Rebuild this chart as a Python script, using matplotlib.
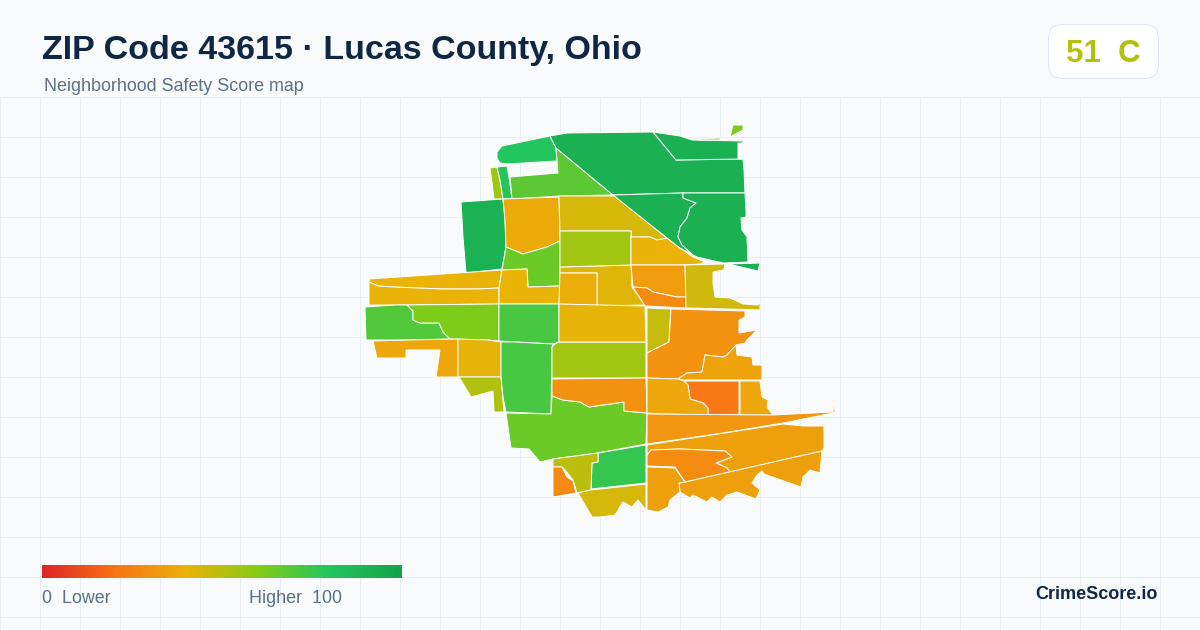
import numpy as np
import matplotlib
matplotlib.use("Agg")
import matplotlib.pyplot as plt
from matplotlib.colors import LinearSegmentedColormap
from matplotlib.patches import FancyBboxPatch, Polygon

# Score per tract, same order as tract_outlines
tract_scores = [80, 55, 79, 68, 91, 37, 65, 40, 40, 40,
                42, 38, 44, 54, 40, 33, 27, 45, 92, 92,
                61, 61, 92, 92, 92, 70, 61, 72, 36, 41,
                51, 72, 65, 54, 41, 30, 47, 30, 35, 22,
                36, 36, 31, 34, 28, 34, 34, 76, 49, 27, 44]

# Tract outlines, in picture pixels
tract_outlines = [
    [(550,136),(556,148),(557,161),(507,164),(500,163),(497,158),(497,152),(502,146)],
    [(490,168),(497,167),(500,180),(503,199),(494,199),(492,183)],
    [(497,167),(507,166),(509,177),(512,199),(503,199),(500,180)],
    [(510,177),(558,173),(556,148),(613,195),(560,196),(512,199)],
    [(461,202),(503,199),(505,220),(506,247),(502,269),(466,273),(463,237)],
    [(503,199),(559,197),(560,241),(547,247),(523,254),(506,247),(505,220)],
    [(506,247),(523,254),(547,247),(560,241),(560,286),(528,287),(527,269),(502,270)],
    [(369,279),(502,270),(499,288),(477,289),(442,289),(393,287),(378,286),(369,282)],
    [(369,282),(378,286),(393,287),(442,289),(477,289),(499,288),(499,304),(395,305),(369,305)],
    [(502,270),(527,269),(528,287),(560,286),(559,304),(499,304),(499,288)],
    [(560,267),(631,265),(632,287),(645,305),(597,306),(597,273),(560,273)],
    [(560,273),(597,273),(597,306),(559,304)],
    [(559,197),(560,196),(615,196),(667,238),(657,240),(650,237),(631,237),(631,231),(560,231)],
    [(560,231),(631,231),(631,265),(560,267)],
    [(631,237),(650,237),(657,240),(667,238),(680,248),(693,257),(705,262),(700,264),(685,265),(631,265)],
    [(631,265),(685,265),(686,297),(677,297),(653,292),(647,288),(633,287)],
    [(633,287),(647,288),(653,292),(677,297),(686,297),(686,308),(645,306)],
    [(685,265),(725,264),(724,270),(713,272),(713,283),(715,297),(730,298),(743,304),(758,305),(760,302),(760,310),(727,309),(686,308)],
    [(550,136),(567,133),(653,132),(676,160),(743,159),(744,170),(745,193),(683,193),(613,195),(556,148)],
    [(653,132),(680,136),(692,140),(743,141),(743,143),(738,143),(738,158),(743,159),(676,160)],
    [(733,125),(743,125),(743,130),(730,137)],
    [(698,139),(720,138),(720,140),(698,140)],
    [(613,195),(683,193),(683,198),(696,203),(690,208),(687,218),(680,227),(678,237),(682,245),(693,255),(697,257),(680,248),(667,238)],
    [(683,193),(745,193),(746,210),(746,217),(741,218),(742,230),(747,237),(748,262),(723,263),(697,257),(693,255),(682,245),(678,237),(680,227),(687,218),(690,208),(696,203),(683,198)],
    [(728,264),(760,263),(758,271)],
    [(365,307),(395,305),(407,305),(413,311),(413,320),(420,323),(439,323),(443,332),(450,339),(410,340),(366,340)],
    [(407,305),(499,304),(499,341),(488,340),(450,339),(443,332),(439,323),(420,323),(413,320),(413,311)],
    [(499,304),(559,304),(559,342),(553,344),(515,342),(499,341)],
    [(373,341),(410,340),(458,339),(458,377),(436,377),(440,350),(406,350),(406,358),(377,358)],
    [(458,339),(488,340),(501,342),(501,377),(458,377)],
    [(459,377),(501,377),(504,412),(494,412),(493,391),(471,397)],
    [(501,342),(515,342),(553,344),(552,347),(551,414),(506,412),(503,397),(501,377)],
    [(506,413),(551,414),(552,396),(563,400),(580,402),(589,407),(624,402),(624,411),(647,413),(646,444),(598,453),(553,459),(540,462),(529,449),(511,448)],
    [(552,347),(555,344),(559,342),(646,342),(646,378),(552,378)],
    [(559,304),(645,306),(646,342),(559,342)],
    [(552,379),(646,378),(647,413),(624,411),(624,402),(589,407),(580,402),(563,400),(552,396)],
    [(647,308),(671,309),(669,342),(657,348),(647,353)],
    [(671,309),(745,311),(745,317),(739,320),(739,333),(757,330),(747,340),(745,343),(736,345),(727,355),(723,357),(705,355),(702,372),(687,373),(678,379),(647,378),(647,353),(657,348),(669,342)],
    [(705,355),(723,357),(727,355),(736,345),(737,355),(752,357),(753,365),(762,365),(762,380),(683,380),(678,379),(687,373),(702,372)],
    [(684,381),(739,381),(739,415),(708,415),(708,408),(703,403),(690,399),(688,385)],
    [(740,381),(760,381),(762,397),(768,400),(767,407),(773,415),(740,415)],
    [(647,378),(678,379),(684,381),(688,385),(690,399),(703,403),(708,408),(708,415),(663,414),(647,413)],
    [(647,414),(773,415),(833,412),(834,398),(835,412),(833,413),(783,423),(723,433),(647,444)],
    [(647,445),(783,424),(803,426),(824,426),(824,448),(822,451),(730,472),(727,468),(716,463),(732,457),(725,451),(680,449),(651,450),(647,455)],
    [(647,455),(651,450),(680,449),(725,451),(732,457),(716,463),(727,468),(730,472),(685,482),(675,467),(647,466)],
    [(685,482),(822,451),(820,473),(810,470),(803,477),(801,487),(764,474),(762,471),(757,475),(752,483),(760,490),(756,499),(737,492),(727,495),(720,502),(712,497),(707,502),(693,495),(690,498),(680,492),(679,483)],
    [(647,467),(675,468),(685,482),(679,483),(680,492),(670,500),(668,507),(658,512),(647,510)],
    [(598,453),(646,445),(646,483),(591,489),(592,463),(598,462)],
    [(553,459),(598,453),(598,462),(592,463),(591,490),(577,493),(573,480),(565,470),(562,467),(553,467)],
    [(553,467),(562,467),(567,477),(573,481),(576,493),(553,497)],
    [(578,493),(591,490),(646,484),(646,510),(638,500),(632,507),(623,502),(615,515),(600,517),(592,517)],
]

score_stops = [0, 20, 40, 60, 80, 100]
stop_colors = ["#dc2626", "#f97316", "#eab308", "#84cc16", "#22c55e", "#16a34a"]
overall_score = 51
overall_grade = "C"

cmap = LinearSegmentedColormap.from_list(
    "safety", [(s / 100, c) for s, c in zip(score_stops, stop_colors)])

plt.rcParams['font.family'] = ['Liberation Sans', 'DejaVu Sans']

fig = plt.figure(figsize=(12, 6.3), dpi=100, facecolor="#f8fafc")
ax = fig.add_axes([0, 0, 1, 1])
ax.set_facecolor("#f8fafc")
ax.axis("off")

# Background grid
for x in np.arange(0, 1200, 40):
    ax.plot([x, x], [97, 630], color="#e8eff4", lw=0.72, zorder=1)
for y in np.arange(97, 630, 40):
    ax.plot([0, 1200], [y, y], color="#e8eff4", lw=0.72, zorder=1)

# Tracts
for outline, score in zip(tract_outlines, tract_scores):
    ax.add_patch(Polygon(outline, closed=True, facecolor=cmap(score / 100),
                         edgecolor="#ffffff", lw=0.7, joinstyle="round", zorder=2))

# Header
ax.text(42, 59, "ZIP Code 43615 · Lucas County, Ohio", fontsize=24.5, fontweight="bold",
        color="#0f2744", va="baseline", zorder=5)
ax.text(44, 91, "Neighborhood Safety Score map", fontsize=12.9, color="#5b7089",
        va="baseline", zorder=5)

# Score badge
ax.add_patch(FancyBboxPatch((1062.5, 38.5), 82, 26, boxstyle="round,pad=14,rounding_size=14",
                            facecolor="#ffffff", edgecolor="#e0e6ef", lw=0.72, zorder=4))
ax.text(1103, 62, f"{overall_score}  {overall_grade}", fontsize=22.5, fontweight="bold",
        color=cmap(overall_score / 100), ha="center", va="baseline", zorder=5)

# Legend bar
gradient = np.linspace(0, 1, 360).reshape(1, -1)
ax.imshow(gradient, cmap=cmap, extent=(42, 402, 578, 565), aspect="auto", zorder=4)
ax.text(42, 603, "0  Lower", fontsize=12.9, color="#5b7089", va="baseline", zorder=5)
ax.text(249, 603, "Higher  100", fontsize=12.9, color="#5b7089", va="baseline", zorder=5)

ax.text(1158, 599, "CrimeScore.io", fontsize=13, fontweight="bold", color="#0f2744",
        ha="right", va="baseline", zorder=5)

ax.set_xlim(0, 1200)
ax.set_ylim(630, 0)

fig.savefig("out.png", dpi=100, facecolor=fig.get_facecolor())
